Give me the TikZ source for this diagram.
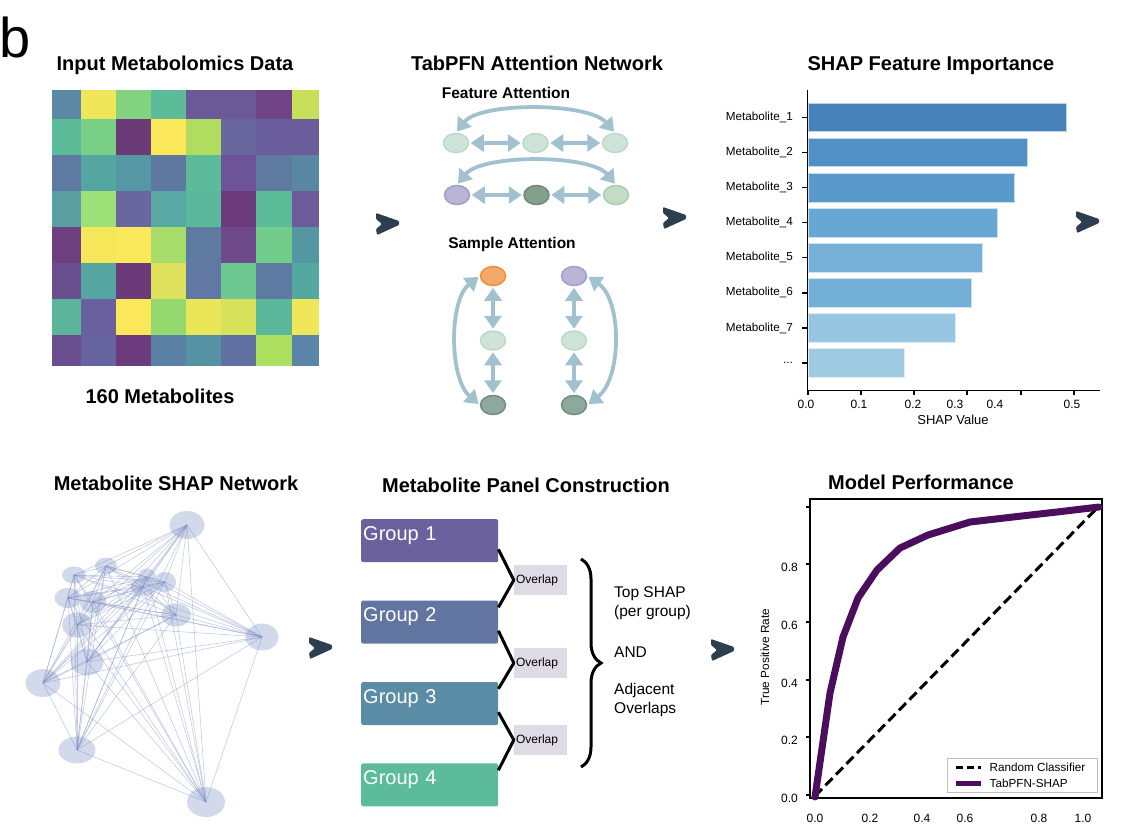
\documentclass[tikz,border=0pt]{standalone}
\usepackage{fontspec}
\setmainfont{Liberation Sans}
\usetikzlibrary{arrows.meta,positioning,shapes.geometric,decorations.pathreplacing,calc}

\definecolor{navy}{HTML}{2C3E50}
\definecolor{attblue}{HTML}{A2C1CF}
\definecolor{mint}{HTML}{CFE3D9}
\definecolor{mintline}{HTML}{BAD9C9}
\definecolor{lav}{HTML}{B9B5D6}
\definecolor{lavline}{HTML}{A39DC9}
\definecolor{dkgreen}{HTML}{849F8E}
\definecolor{dkgreenline}{HTML}{6E8B79}
\definecolor{ltgreen}{HTML}{C4DCC6}
\definecolor{ltgreenline}{HTML}{A9CFB0}
\definecolor{orng}{HTML}{F2AA6C}
\definecolor{orngline}{HTML}{EC8F3C}
\definecolor{slate}{HTML}{8FA89D}
\definecolor{slateline}{HTML}{6F8D80}
\definecolor{netnode}{HTML}{C9D2E6}
\definecolor{netline}{HTML}{7F8FC2}
\definecolor{grpA}{HTML}{6B619C}
\definecolor{grpB}{HTML}{6275A0}
\definecolor{grpC}{HTML}{5A8CA5}
\definecolor{grpD}{HTML}{5CBB9B}
\definecolor{ovl}{HTML}{DEDAE6}
\definecolor{roc}{HTML}{4A0E5C}

\tikzset{
  paneltitle/.style={font=\fontsize{20}{24}\selectfont\bfseries, anchor=base, inner sep=0pt},
  subtitle/.style={font=\fontsize{15.5}{18}\selectfont\bfseries, anchor=base, inner sep=0pt},
  attnode/.style 2 args={ellipse, minimum width=25pt, minimum height=19pt, inner sep=0pt, fill=#1, draw=#2, line width=1.5pt},
  attarrow/.style={attblue, line width=3.8pt, {Triangle[length=13pt,width=17pt]}-{Triangle[length=13pt,width=17pt]}, shorten <=1.5pt, shorten >=1.5pt},
  chev/.pic={\fill[navy, rounded corners=1pt] (-11,-11) -- (12,-3) -- (12,1) -- (-10,11) -- (-11,5) -- (-5,0) -- (-11,-5) -- cycle;},
  smalltext/.style={font=\fontsize{11.7}{14}\selectfont, inner sep=0pt},
  ticktext/.style={font=\fontsize{12}{14}\selectfont, inner sep=0pt},
  netdot/.style 2 args={ellipse, fill=netnode, fill opacity=0.85, minimum width=#1pt, minimum height=#2pt, inner sep=0pt},
  netedge/.style={netline, line width=0.6pt, opacity=0.45},
  groupbox/.style={fill=#1, rounded corners=2pt, minimum width=137pt, minimum height=43pt, text width=133pt, align=left,
    inner xsep=2pt, inner ysep=0pt, text height=21pt, text depth=22pt, text=white, font=\fontsize{20}{24}\selectfont},
  ovbox/.style={fill=ovl, minimum width=53pt, minimum height=30pt, text width=49pt, align=left, inner xsep=2pt,
    font=\fontsize{12}{14}\selectfont},
  sidetext/.style={font=\fontsize{15.5}{19}\selectfont, align=left, anchor=west, inner sep=0pt},
}

\begin{document}
\begin{tikzpicture}[x=1pt, y=-1pt]
\useasboundingbox (0,0) rectangle (1144,831);

\node[font=\fontsize{56}{60}\selectfont, anchor=base west, inner sep=0pt] (plabel) at (-1,57) {b};

% input data
\node[paneltitle] (tin) at (175,70) {Input Metabolomics Data};
\def\hmx{{52,81,116,151,186,221,256,292,319}}
\def\hmy{{90,119,155,191,227,263,299,335,366}}
\foreach \rowcols [count=\r] in {
  {5A88A5,F0E65A,82D27F,5CBB98,6A5B98,6A5B98,6F4385,C6E05A},
  {5CBB98,78CF85,6B3B78,FBE85A,B0DC60,67679E,685D9A,685D9A},
  {5E7AA3,55A6A0,5597A3,5E78A0,5CBB98,6D5397,5E7AA0,5A88A3},
  {5AA0A0,9EE078,6A67A0,5AA8A3,5CB89A,6C3B7D,5CBB98,6D5A9A},
  {6E3F80,F5E65A,F8E85A,A8DC6A,5E7AA0,6F4A8A,72CC8C,5596A3},
  {6A4E90,55A6A0,6B3A78,DCE05A,6078A3,6CC890,5E7AA3,55A8A0},
  {5CB49A,6A60A0,FBE85A,95D870,E9E65A,D7E25A,5CB89A,F0E65A},
  {6A4E90,66649E,6C3B7D,5A80A3,5592A3,6070A0,AEE060,5A85A8}}{
  \foreach \hex [count=\c] in \rowcols {
    \pgfmathsetmacro\xa{\hmx[\c-1]}
    \pgfmathsetmacro\xb{\hmx[\c]}
    \pgfmathsetmacro\ya{\hmy[\r-1]}
    \pgfmathsetmacro\yb{\hmy[\r]}
    \definecolor{hmcell}{HTML}{\hex}
    \fill[hmcell] (\xa,\ya) rectangle (\xb,\yb);
  }
}
\node[paneltitle] (nmet) at (160,403) {160 Metabolites};

\pic (chevA) at (387,224) {chev};

% attention
\node[paneltitle] (tatt) at (537,70) {TabPFN Attention Network};
\node[subtitle] (tfeat) at (506,98) {Feature Attention};
\node[attnode={mint}{mintline}] (fa1) at (456,143) {};
\node[attnode={mint}{mintline}, right=53pt of fa1] (fa2) {};
\node[attnode={mint}{mintline}, right=53pt of fa2] (fa3) {};
\node[attnode={lav}{lavline}] (fb1) at (457,195) {};
\node[attnode={dkgreen}{dkgreenline}, right=53pt of fb1] (fb2) {};
\node[attnode={ltgreen}{ltgreenline}, right=53pt of fb2] (fb3) {};
\draw[attarrow] (fa1) -- (fa2);
\draw[attarrow] (fa2) -- (fa3);
\draw[attarrow] (fa1.north) .. controls (480,102) and (588,102) .. (fa3.north);
\draw[attarrow] (fb1) -- (fb2);
\draw[attarrow] (fb2) -- (fb3);
\draw[attarrow] (fb1.north) .. controls (482,154) and (590,154) .. (fb3.north);

\node[subtitle] (tsamp) at (512,248) {Sample Attention};
\node[attnode={orng}{orngline}] (s1) at (493,276) {};
\node[attnode={mint}{mintline}, below=44pt of s1] (s2) {};
\node[attnode={slate}{slateline}, below=44pt of s2] (s3) {};
\node[attnode={lav}{lavline}] (t1) at (574,276) {};
\node[attnode={mint}{mintline}, below=44pt of t1] (t2) {};
\node[attnode={slate}{slateline}, below=44pt of t2] (t3) {};
\draw[attarrow] (s1) -- (s2);
\draw[attarrow] (s2) -- (s3);
\draw[attarrow] (t1) -- (t2);
\draw[attarrow] (t2) -- (t3);
\draw[attarrow] (s1.west) .. controls (449,300) and (449,378) .. (s3.west);
\draw[attarrow] (t1.east) .. controls (622,300) and (622,378) .. (t3.east);

\pic (chevB) at (674,218) {chev};

% shap bars
\node[paneltitle] (tshap) at (931,70) {SHAP Feature Importance};
\foreach \xe/\hex [count=\i] in {1066/4682B9,1027/5090C5,1014/5A9ACB,997/68A6D3,982/76B0D6,971/74B0D6,955/98C5E2,904/A0CAE2}{
  \pgfmathsetmacro\yc{117.5+35.07*(\i-1)}
  \definecolor{barc}{HTML}{\hex}
  \filldraw[fill=barc, draw=white!65!barc, line width=0.8pt] (808.5,\yc-14.3) rectangle (\xe,\yc+14.3);
  \draw[line width=1.3pt] (802,\yc) -- (808,\yc);
  \ifnum\i<8
    \node[smalltext, anchor=east] (lab\i) at (793,\yc) {Metabolite\_\i};
  \else
    \node[smalltext, anchor=east] (lab\i) at (793,\yc) {...};
  \fi
}
\draw[line width=1.5pt] (807.5,90) -- (807.5,390.5) -- (1100,390.5);
\foreach \tx in {808,861,914,967,1021,1074}
  \draw[line width=1.3pt] (\tx,390) -- (\tx,395);
\foreach \lx/\lt in {806/0.0,859/0.1,913/0.2,955/0.3,995/0.4,1072/0.5}
  \node[ticktext] (xt\lt) at (\lx,404) {\lt};
\node[font=\fontsize{13}{15}\selectfont, inner sep=0pt] (xlab) at (953,420) {SHAP Value};

\pic (chevC) at (1087,222) {chev};

% network
\node[paneltitle] (tnet) at (176,490) {Metabolite SHAP Network};
\foreach \nn/\nx/\ny/\nw/\nh in {1/187/525/35/28,2/106/566/22/17,3/74/575/24/17,4/147/577/18/17,5/165/582/22/20,
  6/143/587/25/18,7/68/598/27/20,8/93/602/27/22,9/176/615/30/23,10/77/625/30/25,11/262/637/33/27,
  12/87/662/33/27,13/43/683/35/28,14/77/750/37/27,15/206/802/38/30}
  \node[netdot={\nw}{\nh}] (n\nn) at (\nx,\ny) {};
\foreach \i in {1,...,14}{
  \pgfmathtruncatemacro\k{\i+1}
  \foreach \j in {\k,...,15}
    \draw[netedge] (n\i.center) -- (n\j.center);
}

\pic (chevD) at (320,648) {chev};

% panel construction
\node[paneltitle] (tpan) at (526,492) {Metabolite Panel Construction};
\node[groupbox=grpA, anchor=north west] (g1) at (361,519) {Group 1};
\node[groupbox=grpB, below=38pt of g1] (g2) {Group 2};
\node[groupbox=grpC, below=38pt of g2] (g3) {Group 3};
\node[groupbox=grpD, below=38pt of g3] (g4) {Group 4};
\node[ovbox] (ov1) at (540.5,580) {Overlap};
\node[ovbox] (ov2) at (540.5,663) {Overlap};
\node[ovbox] (ov3) at (540.5,740) {Overlap};
\draw[line width=3pt, line join=round] ($(g1.south east)+(0,-13)$) -- (ov1.west) -- ($(g2.north east)+(0,7)$);
\draw[line width=3pt, line join=round] ($(g2.south east)+(0,-13)$) -- (ov2.west) -- ($(g3.north east)+(0,7)$);
\draw[line width=3pt, line join=round] ($(g3.south east)+(0,-13)$) -- (ov3.west) -- ($(g4.north east)+(0,7)$);
\coordinate (brtop) at (581,559);
\coordinate (brbot) at (581,767);
\draw[line width=3pt, decorate, decoration={brace, amplitude=20pt}] (brtop) -- (brbot);
\node[sidetext] (rtop) at (614,603) {Top SHAP\\(per group)};
\node[sidetext] (rand) at (614,652) {AND};
\node[sidetext] (radj) at (614,700) {Adjacent\\Overlaps};

\pic (chevE) at (722,650) {chev};

% roc
\node[paneltitle] (tperf) at (921,489) {Model Performance};
\draw[line width=1.5pt] (810,499) rectangle (1102,798);
\foreach \ty/\tl in {795/0.0,737/0.2,680/0.4,622/0.6,564/0.8}{
  \draw[line width=1.3pt] (806,\ty) -- (810,\ty);
  \node[ticktext, anchor=east] (yt\tl) at (798,\ty+3) {\tl};
}
\draw[line width=1.3pt] (806,507) -- (810,507);
\foreach \lx/\lt in {815/0.0,870/0.2,922/0.4,965/0.6,1039/0.8,1083/1.0}
  \node[ticktext] (rx\lt) at (\lx,818) {\lt};
\node[rotate=90, font=\fontsize{11.8}{14}\selectfont, inner sep=0pt] (ylab) at (765,657) {True Positive Rate};
\draw[line width=3pt, dash pattern=on 10pt off 5pt] (815,796) -- (1100,505);
\draw[roc, line width=7pt, line join=round, line cap=round] (815,797) -- (830,693) -- (843,637) -- (858,598) -- (877,570)
  -- (900,548) -- (928,535) -- (970,522) -- (1013,517) -- (1057,512) -- (1099,507);
\node[draw=black!25, line width=1pt, fill=white, minimum width=150pt, minimum height=34pt, inner sep=0pt] (leg) at (1022,775) {};
\draw[line width=3pt, dash pattern=on 7pt off 4pt] ([xshift=9pt,yshift=8pt]leg.west) -- ++(25,0);
\draw[roc, line width=5pt] ([xshift=9pt,yshift=-8pt]leg.west) -- ++(25,0);
\node[smalltext, anchor=west] (lrand) at ([xshift=43pt,yshift=8pt]leg.west) {Random Classifier};
\node[smalltext, anchor=west] (ltab) at ([xshift=43pt,yshift=-8pt]leg.west) {TabPFN-SHAP};
\end{tikzpicture}
\end{document}
